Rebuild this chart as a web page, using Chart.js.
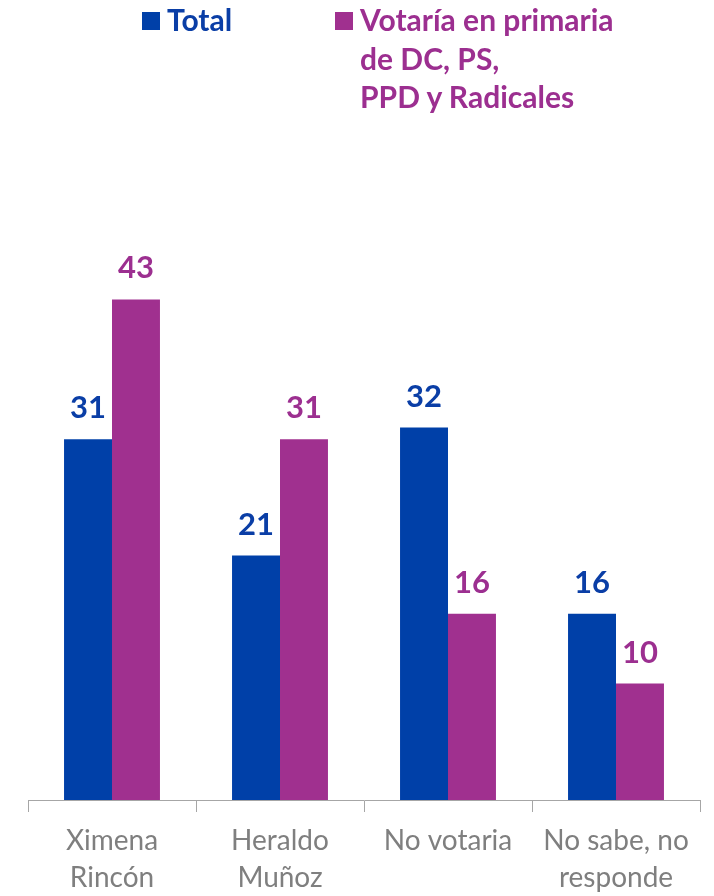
<!DOCTYPE html>
<html>
<head>
<meta charset="utf-8">
<script src="https://cdn.jsdelivr.net/npm/chart.js@4"></script>
<style>
  body { margin: 0; background: #fff; font-family: Lato, sans-serif; }
  #wrap { position: relative; width: 714px; height: 896px; }
  #grafico { position: absolute; left: 0; top: 0; }
  .ley { position: absolute; font-weight: bold; font-size: 30px; line-height: 38.5px; }
  .ley .cuadro { position: absolute; width: 18px; height: 18px; left: -25px; top: 12px; }
</style>
</head>
<body>
<div id="wrap">
  <canvas id="grafico" width="714" height="896"></canvas>
  <div class="ley" style="left:167px; top:0px; color:#0a3ea6;"><span class="cuadro" style="background:#0040a8;"></span>Total</div>
  <div class="ley" style="left:360px; top:0px; color:#9c2f90;"><span class="cuadro" style="background:#a0308f;"></span>Votaría en primaria<br>de DC, PS,<br>PPD y Radicales</div>
</div>
<script>
var categorias = [["Ximena", "Rincón"], ["Heraldo", "Muñoz"], "No votaria", ["No sabe, no", "responde"]];
var total = [31, 21, 32, 16];
var votaria = [43, 31, 16, 10];

var colorAzul = "#0040a8";
var colorMorado = "#a0308f";

// etiquetas sobre las barras
var etiquetas = {
    id: "etiquetas",
    afterDatasetsDraw: function(chart) {
        var ctx = chart.ctx;
        ctx.save();
        ctx.font = "bold 31px Lato";
        ctx.textAlign = "center";
        ctx.textBaseline = "alphabetic";
        chart.data.datasets.forEach(function(ds, i) {
            ctx.fillStyle = i == 0 ? "#0a3ea6" : "#9c2f90";
            chart.getDatasetMeta(i).data.forEach(function(bar, j) {
                ctx.fillText(ds.data[j], bar.x, bar.y - 21);
            });
        });
        ctx.restore();
    }
};

var ctx = document.getElementById("grafico");
var grafico = new Chart(ctx, {
    type: 'bar',
    data: {
        labels: categorias,
        datasets: [{
            label: 'Total',
            data: total,
            backgroundColor: colorAzul
        }, {
            label: 'Votaría en primaria de DC, PS, PPD y Radicales',
            data: votaria,
            backgroundColor: colorMorado
        }]
    },
    options: {
        responsive: false,
        animation: false,
        datasets: { bar: { categoryPercentage: 0.571, barPercentage: 1 } },
        layout: { padding: { top: 218, left: 28, right: 14, bottom: 0 } },
        plugins: {
            legend: { display: false },
            tooltip: { enabled: false }
        },
        scales: {
            x: {
                grid: { drawOnChartArea: false, tickLength: 12, color: "#a6a6a6" },
                border: { color: "#a6a6a6" },
                ticks: {
                    color: "#7f7f7f",
                    font: { family: "Lato", size: 28, lineHeight: 1.3 },
                    padding: 11,
                    maxRotation: 0
                },
                afterFit: function(s) { s.height = 96; }
            },
            y: {
                display: false,
                min: 0,
                max: 50
            }
        }
    },
    plugins: [etiquetas]
});
</script>
</body>
</html>
